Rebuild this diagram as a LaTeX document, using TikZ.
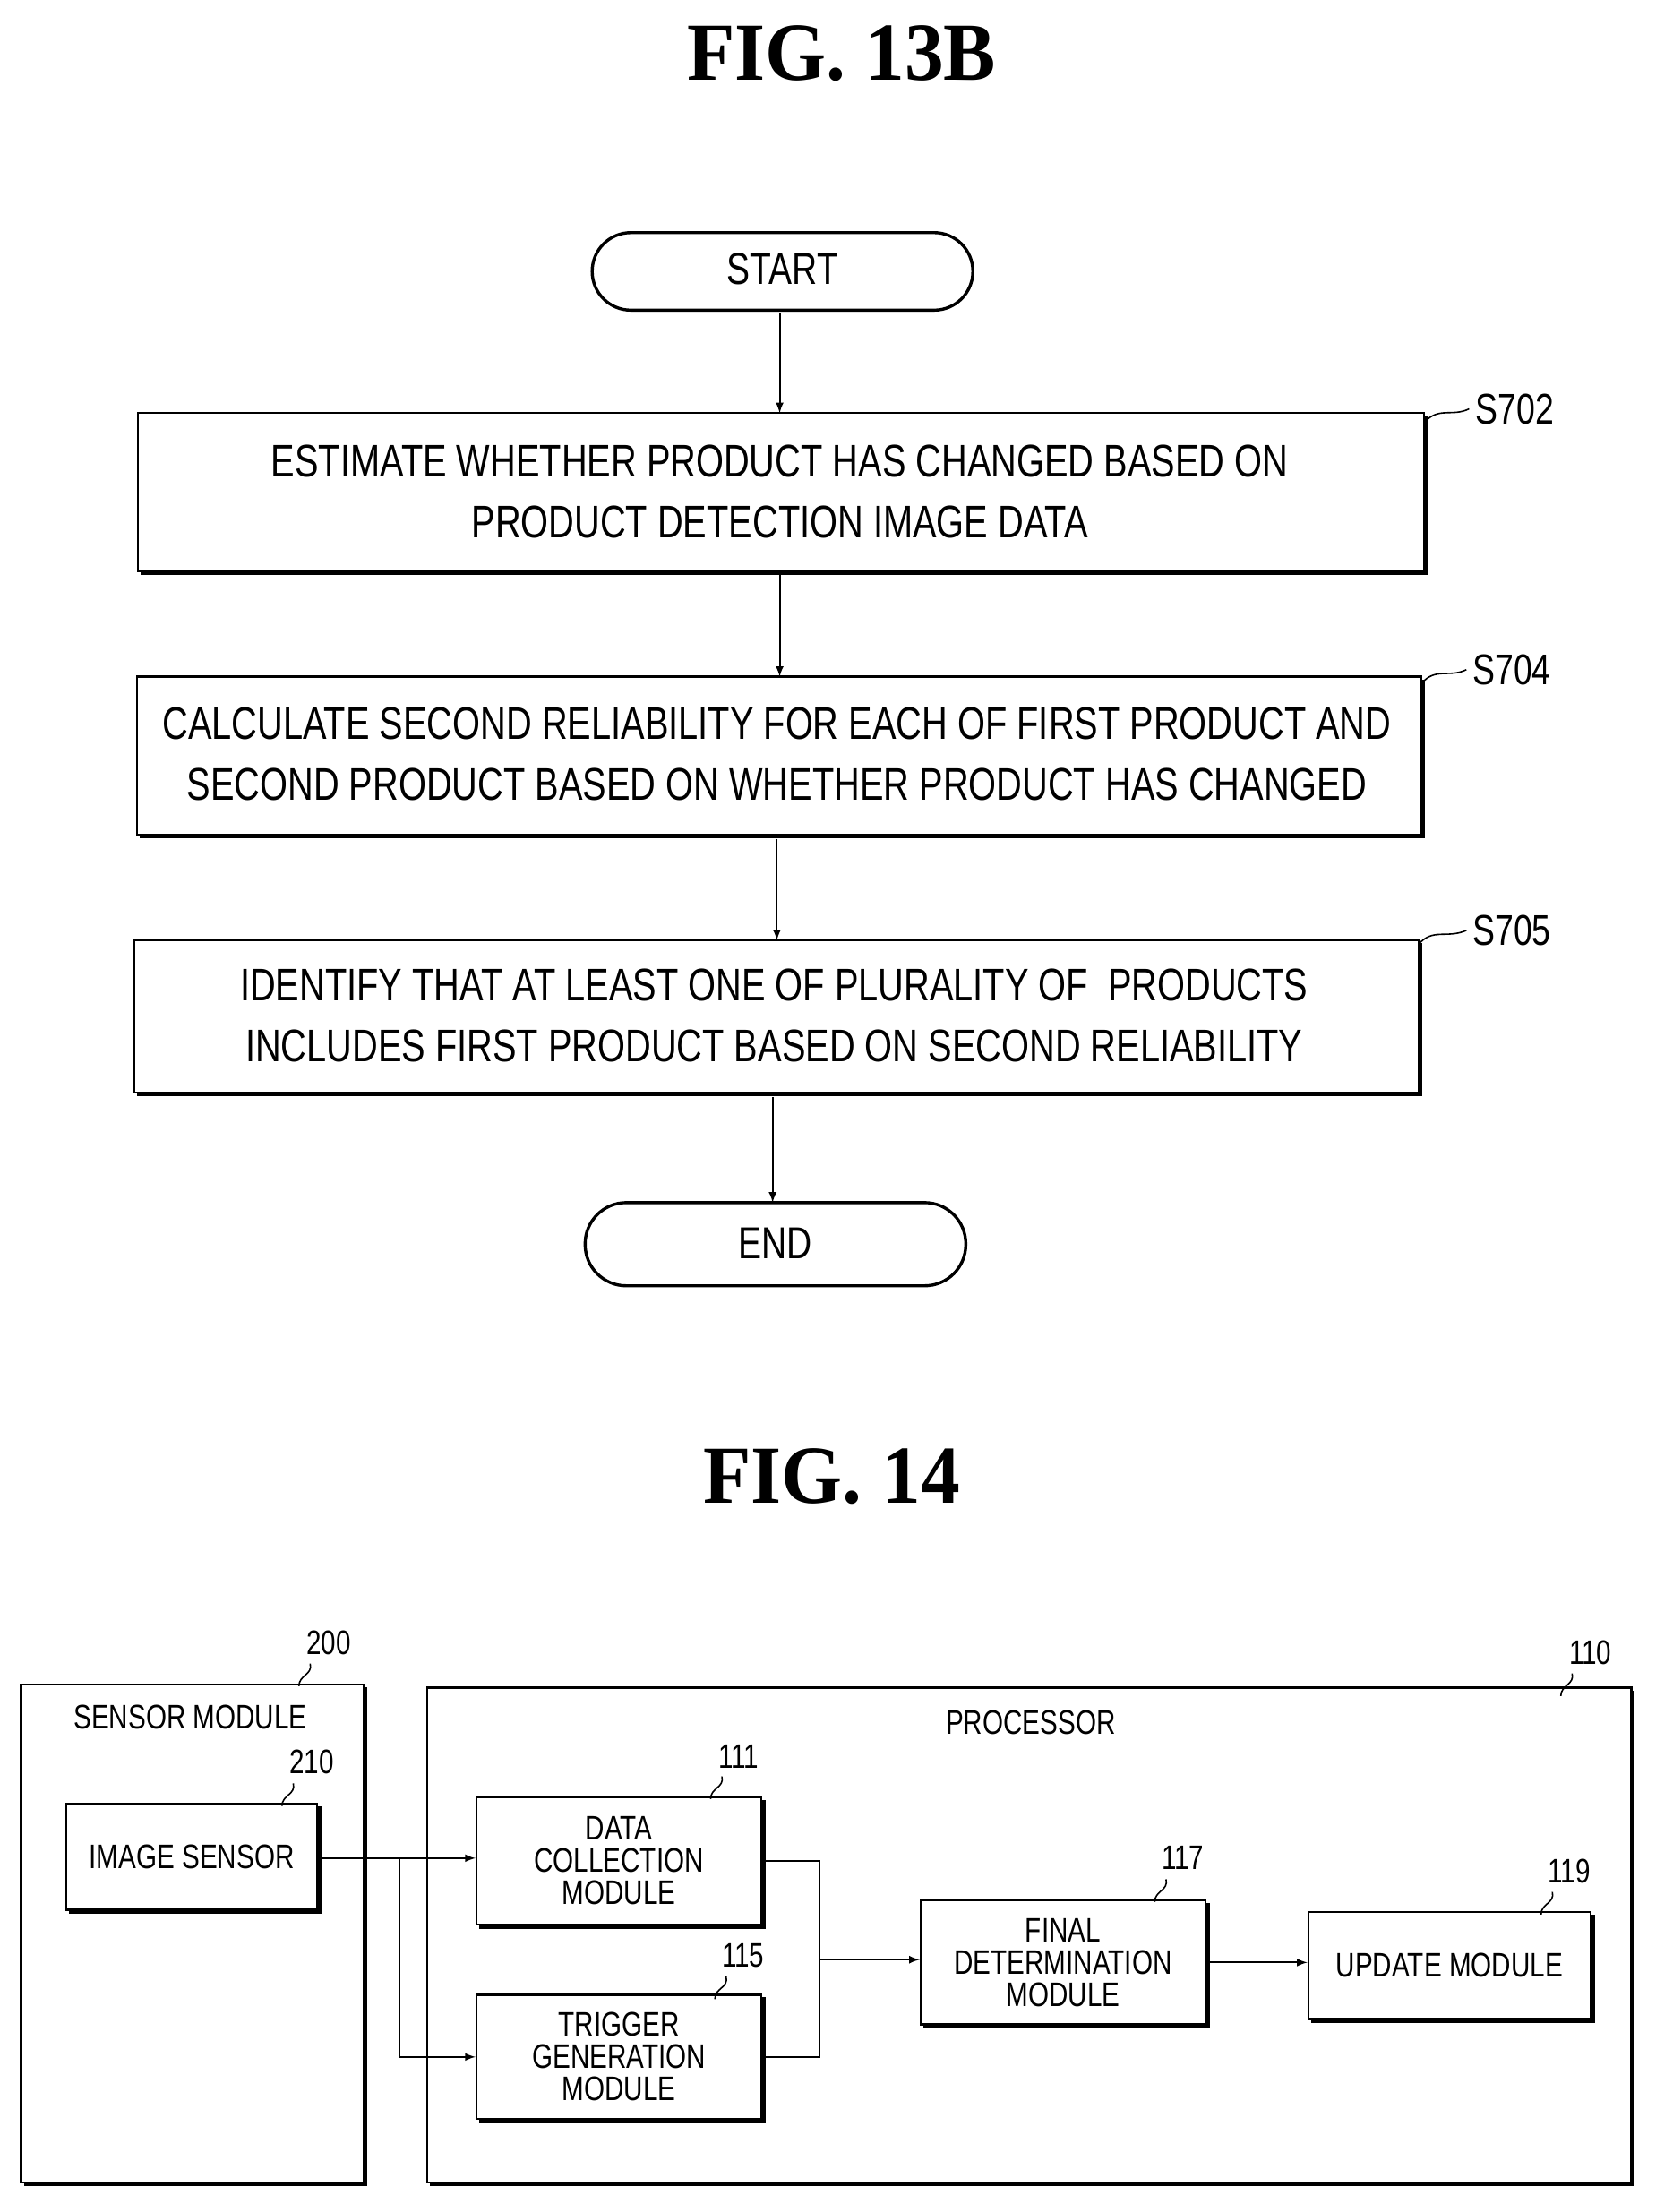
\documentclass[tikz,border=0pt]{standalone}
\usepackage{fontspec}
\setmainfont{Liberation Sans}[FakeStretch=0.78]
\newfontfamily\figfont{Liberation Serif}[FakeStretch=0.95]
\begin{document}
\begin{tikzpicture}[x=0.787pt,y=-0.787pt,
  box/.style={inner sep=0pt,align=center,font=\fontsize{25.5}{34}\selectfont},
  sbox/.style={draw,line width=1.2pt,inner sep=0pt,align=center,font=\fontsize{19}{18}\selectfont},
  shad/.style={line width=2.4pt},
  arr/.style={-latex,line width=1pt},
  lbl/.style={font=\fontsize{24}{24}\selectfont},
  slbl/.style={font=\fontsize{19}{20}\selectfont},
  ttl/.style={font=\figfont\bfseries\fontsize{46}{50}\selectfont}]
\useasboundingbox (0,0) rectangle (1186,1569);
\node[ttl] (t1) at (597,38) {FIG. 13B};
\node[ttl] (t2) at (590,1047) {FIG. 14};
% flowchart
\draw[line width=1.7pt,rounded corners=21.6pt] (420,165) rectangle (690,220);
\node[font=\fontsize{25}{28}\selectfont] (start) at (555,191) {START};
\draw[line width=1.7pt,rounded corners=23pt] (415,853) rectangle (685,912);
\node[font=\fontsize{25}{28}\selectfont] (end) at (550,882) {END};
\draw[line width=1.2pt] (98,293) rectangle (1010,405);
\draw[shad] (100,406) -- (1011,406) -- (1011,295);
\node[box] (s702) at (553,349) {ESTIMATE WHETHER PRODUCT HAS CHANGED BASED ON\\PRODUCT DETECTION IMAGE DATA};
\draw[line width=1.2pt] (97,480) rectangle (1008,592);
\draw[shad] (99,593) -- (1009,593) -- (1009,482);
\node[box] (s704) at (551,535) {CALCULATE SECOND RELIABILITY FOR EACH OF FIRST PRODUCT AND\\SECOND PRODUCT BASED ON WHETHER PRODUCT HAS CHANGED};
\draw[line width=1.2pt] (95,667) rectangle (1006,775);
\draw[shad] (97,776) -- (1007,776) -- (1007,669);
\node[box] (s705) at (549,720) {IDENTIFY THAT AT LEAST ONE OF PLURALITY OF\ \ PRODUCTS\\INCLUDES FIRST PRODUCT BASED ON SECOND RELIABILITY};
\coordinate (a1) at (553,222); \coordinate (a1e) at (553,293);
\coordinate (a2) at (553,408); \coordinate (a2e) at (553,480);
\coordinate (a3) at (551,595); \coordinate (a3e) at (551,667);
\coordinate (a4) at (548,778); \coordinate (a4e) at (548,853);
\draw[arr] (a1) -- (a1e); \draw[arr] (a2) -- (a2e);
\draw[arr] (a3) -- (a3e); \draw[arr] (a4) -- (a4e);
\node[lbl,anchor=west] (l702) at (1042,290) {S702};
\node[lbl,anchor=west] (l704) at (1040,475) {S704};
\node[lbl,anchor=west] (l705) at (1040,660) {S705};
\draw[line width=0.8pt] (1010,300) .. controls (1020,288) and (1030,296) .. (1042,290);
\draw[line width=0.8pt] (1008,485) .. controls (1018,473) and (1028,481) .. (1040,475);
\draw[line width=0.8pt] (1006,670) .. controls (1016,658) and (1026,666) .. (1040,660);
% fig 14
\draw[line width=1.2pt] (15,1195) rectangle (258,1548);
\draw[line width=1.2pt] (303,1197) rectangle (1157,1548);
\draw[shad] (17,1549) -- (259,1549) -- (259,1197);
\draw[shad] (305,1549) -- (1158,1549) -- (1158,1199);
\node[slbl] (sm) at (135,1218) {SENSOR MODULE};
\node[slbl] (pr) at (731,1222) {PROCESSOR};
\node[sbox,minimum width=140pt,minimum height=59pt] (img) at (136,1317) {IMAGE SENSOR};
\node[sbox,minimum width=159pt,minimum height=70.8pt] (dc) at (439,1320) {DATA\\COLLECTION\\MODULE};
\node[sbox,minimum width=159pt,minimum height=69.3pt] (tg) at (439,1459) {TRIGGER\\GENERATION\\MODULE};
\node[sbox,minimum width=159pt,minimum height=69.3pt] (fd) at (754,1392) {FINAL\\DETERMINATION\\MODULE};
\node[sbox,minimum width=157.4pt,minimum height=59.8pt] (up) at (1028,1394) {UPDATE MODULE};
\foreach \n in {img,dc,tg,fd,up}{\draw[shad] ([xshift=2pt,yshift=-0.6pt]\n.south west) -- ([xshift=0.6pt,yshift=-0.6pt]\n.south east) -- ([xshift=0.6pt,yshift=-2pt]\n.north east);}
\coordinate (br) at (283,1318);
\coordinate (mj) at (581,1390);
\draw[arr] (img.east |- br) -- (dc.west |- br);
\draw[arr] (br) |- (tg.west);
\draw[line width=1pt] (dc.east) -| (mj) |- (tg.east);
\draw[arr] (mj) -- (fd.west |- mj);
\draw[arr] (fd.east) -- (up.west |- fd.east);
\node[slbl] (n200) at (233,1165) {200};
\node[slbl] (n210) at (221,1250) {210};
\node[slbl] (n110) at (1128,1172) {110};
\node[slbl] (n111) at (524,1246) {111};
\node[slbl] (n115) at (527,1387) {115};
\node[slbl] (n117) at (839,1318) {117};
\node[slbl] (n119) at (1113,1327) {119};
\foreach \x/\y in {220/1180,208/1265,1115/1187,512/1260,515/1402,827/1333,1101/1342}{
  \draw[line width=0.8pt] (\x,\y) .. controls (\x+2,\y+8) and (\x-8,\y+8) .. (\x-8,\y+16);}
\end{tikzpicture}
\end{document}
